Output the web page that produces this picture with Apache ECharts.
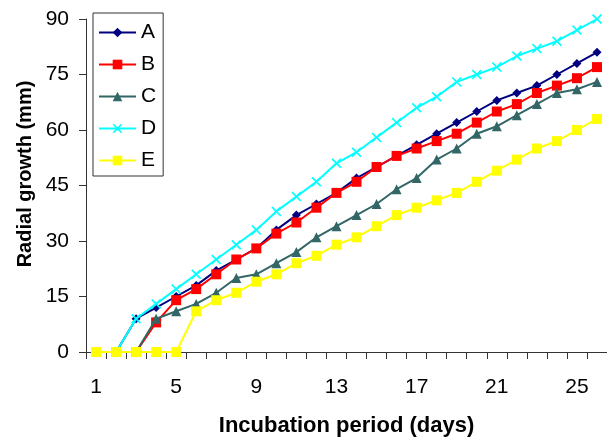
<!DOCTYPE html>
<html><head><meta charset="utf-8">
<script src="https://cdn.jsdelivr.net/npm/echarts@6/dist/echarts.min.js"></script>
<style>html,body{margin:0;padding:0;background:#fff}#c{width:607px;height:438px}</style>
</head><body><div id="c"></div>
<script>
var days = [1,2,3,4,5,6,7,8,9,10,11,12,13,14,15,16,17,18,19,20,21,22,23,24,25,26];
var seriesA = [0,0,9,12,15,18,22,25,28,33,37,40,43,47,50,53,56,59,62,65,68,70,72,75,78,81];
var seriesB = [0,0,0,8,14,17,21,25,28,32,35,39,43,46,50,53,55,57,59,62,65,67,70,72,74,77];
var seriesC = [0,0,0,9,11,13,16,20,21,24,27,31,34,37,40,44,47,52,55,59,61,64,67,70,71,73];
var seriesD = [0,0,9,13,17,21,25,29,33,38,42,46,51,54,58,62,66,69,73,75,77,80,82,84,87,90];
var seriesE = [0,0,0,0,0,11,14,16,19,21,24,26,29,31,34,37,39,41,43,46,49,52,55,57,60,63];
var names = ['A','B','C','D','E'];
var xTitle = 'Incubation period (days)';
var yTitle = 'Radial growth (mm)';
var colors = ['#000080','#FF0000','#336666','#00FFFF','#FFFF00'];
var xSym = 'path://M0,1.2L1.2,0L5,3.8L8.8,0L10,1.2L6.2,5L10,8.8L8.8,10L5,6.2L1.2,10L0,8.8L3.8,5Z';
var symbols = ['diamond','rect','triangle',xSym,'rect'];
var sizes = [9,10,10,10,10];
var data = [seriesA,seriesB,seriesC,seriesD,seriesE];

var chart = echarts.init(document.getElementById('c'));
var font = 'Liberation Sans, Arial, sans-serif';
chart.setOption({
  animation:false,
  grid:{left:86,right:0,top:19,bottom:86,containLabel:false,outerBoundsMode:'none'},
  legend:{
    orient:'vertical', left:93, top:13,
    data:names,
    itemWidth:37, itemHeight:12, itemGap:11,
    padding:[9,7,5,5],
    borderColor:'#333', borderWidth:1,
    textStyle:{fontSize:21, fontFamily:font, color:'#000'}
  },
  graphic:[{
    type:'text', x:25, y:174, rotation:Math.PI/2,
    style:{text:yTitle, fontSize:20, fontWeight:'bold', fontFamily:font, fill:'#000',
           align:'center', verticalAlign:'middle'}
  }],
  xAxis:{
    type:'category', data:days, boundaryGap:true,
    name:xTitle, nameLocation:'middle', nameGap:63,
    nameTextStyle:{fontSize:22, fontWeight:'bold', fontFamily:font, color:'#000'},
    axisLine:{lineStyle:{color:'#333', width:1}},
    axisTick:{show:true, interval:0, length:7, lineStyle:{color:'#333'}},
    axisLabel:{interval:3, margin:25, fontSize:21, fontFamily:font, color:'#000'},
    splitLine:{show:false}
  },
  yAxis:{
    type:'value', min:0, max:90, interval:15,
    axisLine:{show:true, lineStyle:{color:'#333', width:1}},
    axisTick:{show:true, length:7, lineStyle:{color:'#333'}},
    axisLabel:{margin:17, fontSize:21, fontFamily:font, color:'#000'},
    splitLine:{show:false}
  },
  series: names.map(function(n,i){
    return {
      name:n, type:'line', data:data[i],
      symbol:symbols[i], symbolSize:sizes[i], showSymbol:true,
      lineStyle:{color:colors[i], width:2},
      itemStyle:{color:colors[i]},
      z: 2+i
    };
  })
});
</script></body></html>
